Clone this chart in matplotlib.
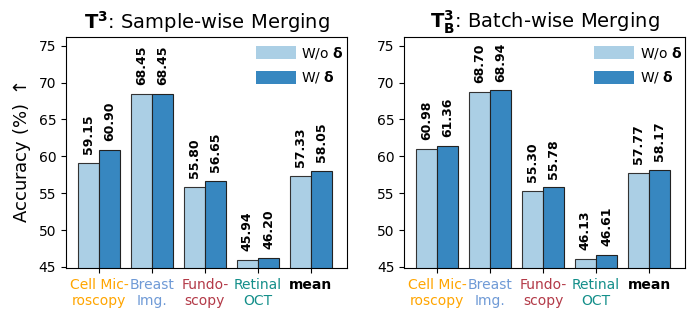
import matplotlib
matplotlib.use("Agg")
import matplotlib.pyplot as plt
from matplotlib.patches import Patch
import numpy as np

categories = ["Cell Mic-\nroscopy", "Breast\nImg.", "Fundo-\nscopy", "Retinal\nOCT", "mean"]
cat_colors = ["#FFA500", "#6F9AD6", "#B33A48", "#148F8A", "black"]

sample_wo = [59.15, 68.45, 55.80, 45.94, 57.33]
sample_w = [60.90, 68.45, 56.65, 46.20, 58.05]
batch_wo = [60.98, 68.70, 55.30, 46.13, 57.77]
batch_w = [61.36, 68.94, 55.78, 46.61, 58.17]

titles = [r"$\mathbf{T^3}$: Sample-wise Merging", r"$\mathbf{T^3_B}$: Batch-wise Merging"]
legend_labels = [r"W/o $\mathbf{\delta}$", r"W/ $\mathbf{\delta}$"]

light = "#abcfe5"
dark = "#3787c0"
width = 0.4

fig = plt.figure(figsize=(6.98, 3.18), dpi=100)
axes = [fig.add_axes([0.0946, 0.157, 0.4025, 0.727]),
        fig.add_axes([0.579, 0.157, 0.4025, 0.727])]

for ax, title, wo, w in zip(axes, titles, [sample_wo, batch_wo], [sample_w, batch_w]):
    x = np.arange(len(categories))
    ax.bar(x - width / 2, wo, width, color=light, edgecolor="#333333", linewidth=0.8)
    ax.bar(x + width / 2, w, width, color=dark, edgecolor="#222222", linewidth=0.8)
    for xi, v in zip(x - width / 2, wo):
        ax.text(xi, v + 1.2, f"{v:.2f}", rotation=90, ha="center", va="bottom", fontsize=9, fontweight="bold")
    for xi, v in zip(x + width / 2, w):
        ax.text(xi, v + 1.2, f"{v:.2f}", rotation=90, ha="center", va="bottom", fontsize=9, fontweight="bold")
    ax.set_ylim(44.85, 76.2)
    ax.set_xlim(-0.62, 4.68)
    ax.set_yticks([45, 50, 55, 60, 65, 70, 75])
    ax.set_xticks(x)
    ax.set_xticklabels(categories, fontsize=10)
    for lbl, c in zip(ax.get_xticklabels(), cat_colors):
        lbl.set_color(c)
    ax.get_xticklabels()[-1].set_fontweight("bold")
    ax.tick_params(axis="y", labelsize=10)
    ax.set_title(title, fontsize=14)
    handles = [Patch(facecolor=light, edgecolor="none"), Patch(facecolor=dark, edgecolor="none")]
    ax.legend(handles, legend_labels, loc="upper right", frameon=False, fontsize=10,
              handlelength=2.9, handleheight=1.05, handletextpad=0.4, labelspacing=0.6,
              borderaxespad=0.1, bbox_to_anchor=(1.013, 0.995))

axes[0].set_ylabel(r"Accuracy (%) $\uparrow$", fontsize=13)

fig.savefig("out.png", dpi=100)
